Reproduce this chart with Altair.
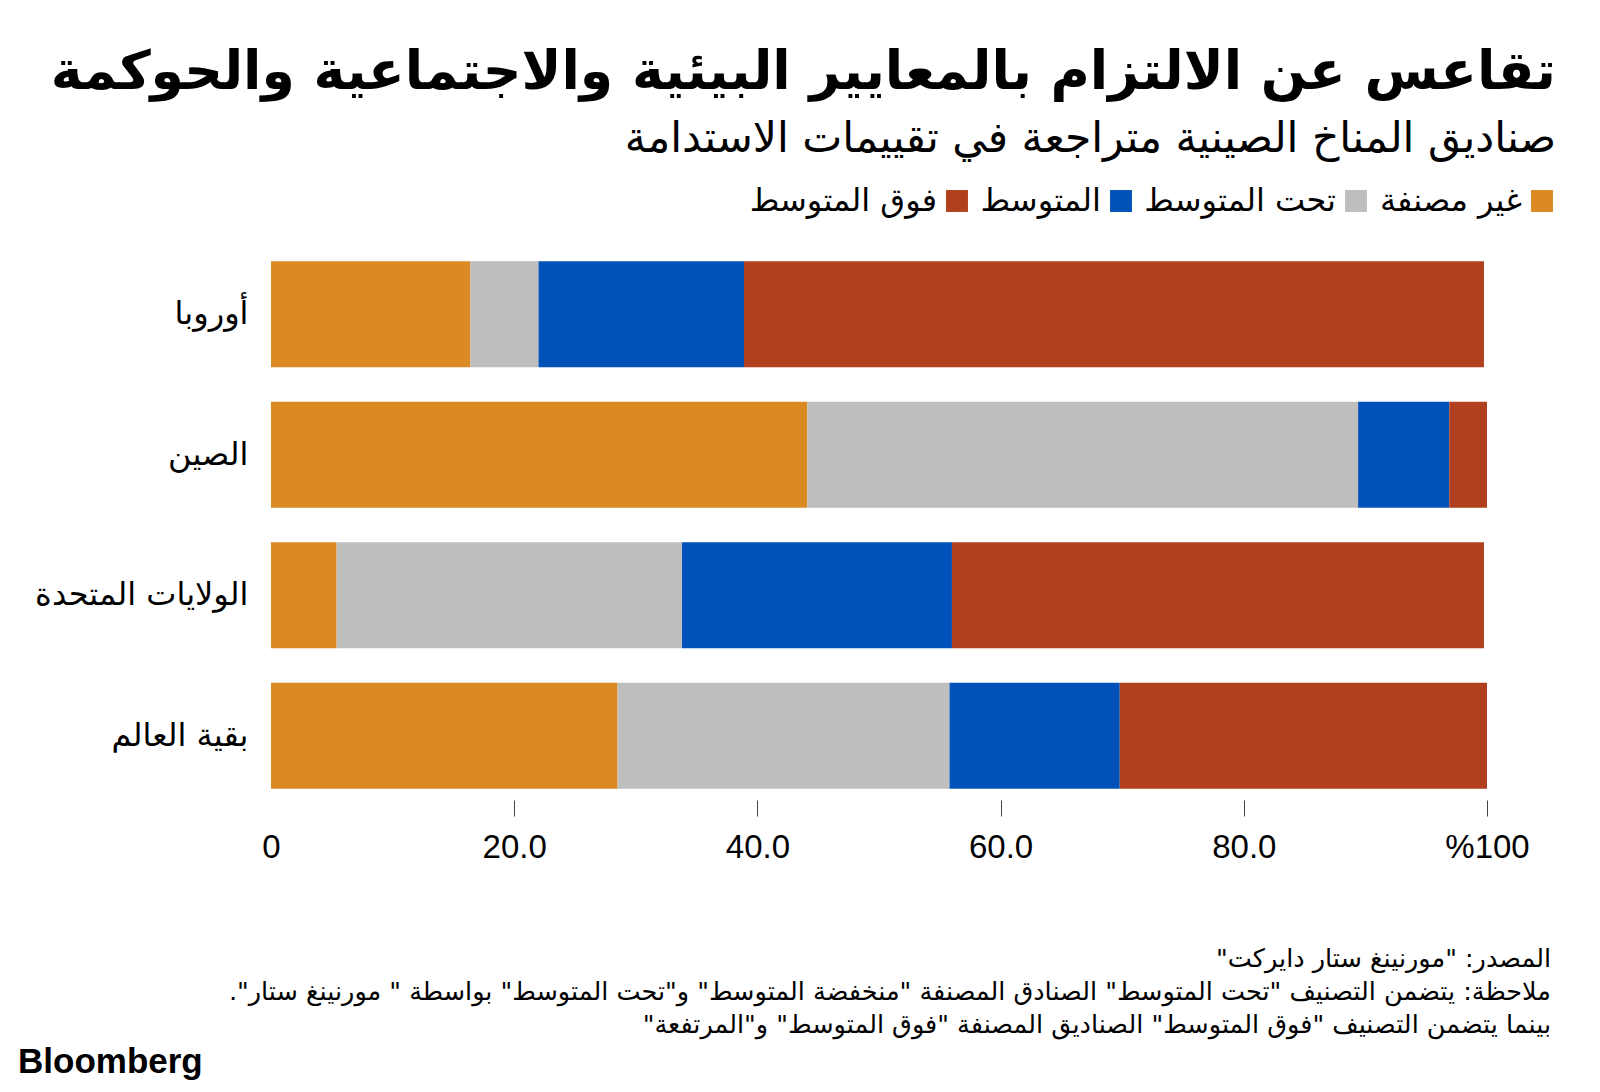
import altair as alt
import pandas as pd

# ---- data ----
regions = ["أوروبا", "الصين", "الولايات المتحدة", "بقية العالم"]
categories = ["غير مصنفة", "تحت المتوسط", "المتوسط", "فوق المتوسط"]
colors = ["#DB8923", "#BEBEBE", "#0052B9", "#B0401E"]
unrated = [16.4, 44.1, 5.4, 28.5]
below_avg = [5.6, 45.3, 28.4, 27.3]
average = [16.9, 7.5, 22.2, 14.0]
above_avg = [60.85, 3.1, 43.75, 30.2]
tick_values = [0, 20, 40, 60, 80, 100]

title_text = "تقاعس عن الالتزام بالمعايير البيئية والاجتماعية والحوكمة"
subtitle_text = "صناديق المناخ الصينية متراجعة في تقييمات الاستدامة"
RLM = "\u200f"
notes = [
    'المصدر: "مورنينغ ستار دايركت"',
    'ملاحظة: يتضمن التصنيف "تحت المتوسط" الصنادق المصنفة "منخفضة المتوسط" و"تحت المتوسط" بواسطة " مورنينغ ستار".',
    'بينما يتضمن التصنيف "فوق المتوسط" الصناديق المصنفة "فوق المتوسط" و"المرتفعة"',
]
notes = [RLM + n + RLM for n in notes]

series = [unrated, below_avg, average, above_avg]
rows = []
for ci, (cat, vals) in enumerate(zip(categories, series)):
    for r, v in zip(regions, vals):
        rows.append({"region": r, "cat": cat, "value": v, "ord": ci})
df = pd.DataFrame(rows)

AR_FONT = "DejaVu Sans"
NUM_FONT = "Liberation Sans, Arial"

W, H = 1216, 550

bars = alt.Chart(df).mark_bar().encode(
    x=alt.X(
        "value:Q",
        stack="zero",
        scale=alt.Scale(domain=[0, 100], nice=False, zero=True),
        axis=alt.Axis(
            values=tick_values,
            title=None,
            grid=False,
            domain=False,
            tickSize=16,
            tickColor="#444",
            tickWidth=1,
            tickOpacity={"condition": {"test": "datum.value === 0", "value": 0}, "value": 1},
            labelExpr="datum.value === 100 ? '%100' : (datum.value === 0 ? '0' : format(datum.value, '.1f'))",
            labelFont=NUM_FONT,
            labelFontSize=33,
            labelColor="#000",
            labelPadding=15,
            labelFlush=False,
        ),
    ),
    y=alt.Y(
        "region:N",
        sort=regions,
        scale=alt.Scale(paddingInner=0.245, paddingOuter=0.08),
        axis=alt.Axis(
            title=None,
            ticks=False,
            domain=False,
            labelFont=AR_FONT,
            labelFontSize=32,
            labelColor="#000",
            labelPadding=23,
            labelLimit=0,
        ),
    ),
    color=alt.Color(
        "cat:N",
        scale=alt.Scale(domain=categories, range=colors),
        legend=alt.Legend(
            title=None,
            orient="none",
            legendX=670,
            legendY=-65,
            direction="horizontal",
            values=list(reversed(categories)),
            symbolType="square",
            symbolSize=480,
            symbolStrokeWidth=0,
            labelAlign="right",
            labelOffset={"expr": "-36"},
            labelFont=AR_FONT,
            labelFontSize=32,
            labelColor="#000",
            labelLimit=0,
            columnPadding=12,
        ),
    ),
    order=alt.Order("ord:Q"),
)

notes_layer = alt.Chart(pd.DataFrame({"k": [0]})).mark_text(
    align="right",
    baseline="middle",
    font=AR_FONT,
    fontSize=25.5,
    lineHeight=33,
    color="#000",
).encode(
    x=alt.value(1551 - 271),
    y=alt.value(959 - 250),
    text=alt.value(notes),
)

logo = alt.Chart(pd.DataFrame({"k": [0]})).mark_text(
    align="left",
    baseline="middle",
    font=NUM_FONT,
    fontSize=35,
    fontWeight="bold",
    color="#000",
).encode(
    x=alt.value(18 - 271),
    y=alt.value(1062 - 250),
    text=alt.value("Bloomberg"),
)

chart = alt.layer(bars, notes_layer, logo).properties(
    width=W,
    height=H,
    autosize=alt.AutoSizeParams(type="none"),
    padding={"left": 263, "top": 242, "right": 97, "bottom": 284},
    title=alt.TitleParams(
        text=title_text,
        subtitle=subtitle_text,
        anchor="end",
        frame="group",
        font=AR_FONT,
        fontSize=53.7,
        fontWeight="bold",
        color="#000",
        subtitleFont=AR_FONT,
        subtitleFontSize=42.5,
        subtitleColor="#000",
        subtitlePadding=17,
        dx=69,
        offset=24,
    ),
).configure(background="#ffffff").configure_view(stroke=None)

chart.save("out.html", embed_options={"renderer": "svg", "actions": False})
